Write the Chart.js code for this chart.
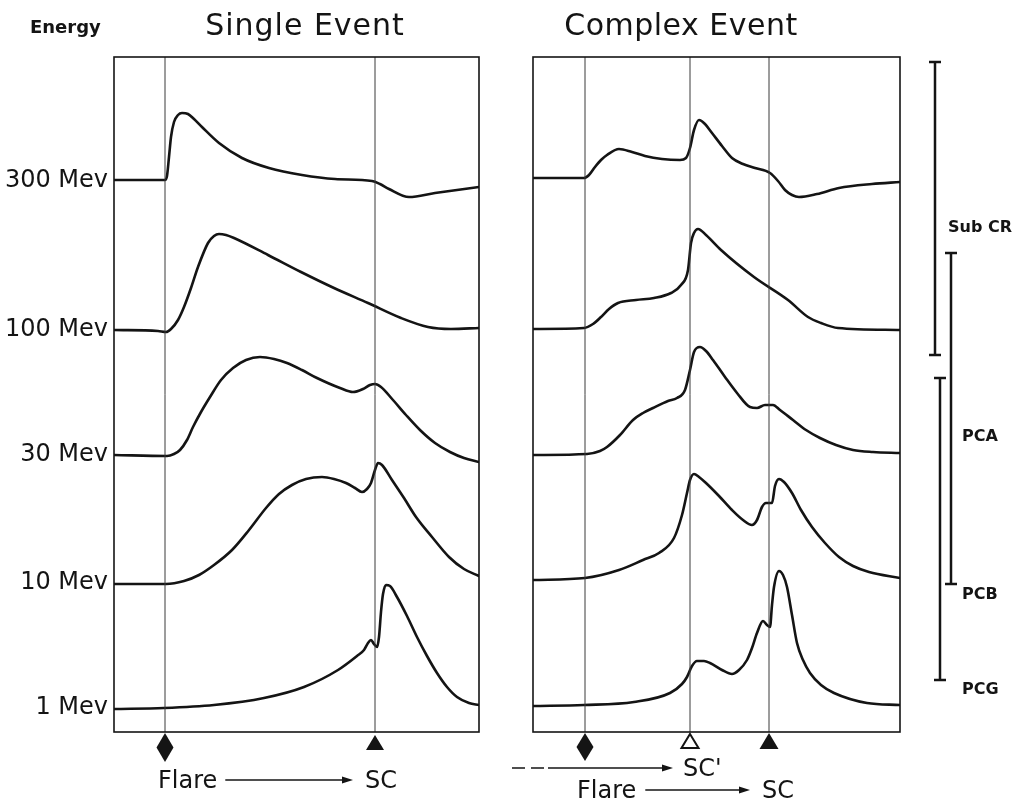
<!DOCTYPE html>
<html><head><meta charset="utf-8">
<script src="https://cdn.jsdelivr.net/npm/chart.js@4.4.1/dist/chart.umd.min.js"></script>
<style>
html,body{margin:0;padding:0;background:#fff;}
#wrap{position:relative;width:1025px;height:802px;overflow:hidden;background:#fff;}
canvas{position:absolute;top:0;}
#c1{left:0;width:500px;height:802px;}
#c2{left:500px;width:525px;height:802px;}
</style></head><body>
<div id="wrap"><canvas id="c1" width="500" height="802"></canvas><canvas id="c2" width="525" height="802"></canvas></div>
<script>
// ---------- data (time in arbitrary units, intensity in arbitrary stacked units) ----------
const energyLabels = ['300 Mev', '100 Mev', '30 Mev', '10 Mev', '1 Mev'];
const labelLevels = [551, 402, 277, 149, 24];

const singleFlare = 51, singleSC = 261;
const complexFlare = 52, complexSCp = 157, complexSC = 236;

const single300 = [[0,552],[51,552],[53,556],[55,575],[57,595],[60,610],[64,617],[68,619],[74,618],[80,613],[88,605],[105,589],[128,574],[155,564],[188,557],[221,553],[258,551],[266,548],[275,543],[295,535],[321,539],[365,545]];
const single100 = [[0,402],[44,401],[52,400],[57,403],[64,412],[70,425],[77,444],[84,465],[94,489],[100,496],[105,498],[112,497],[120,494],[154,477],[187,460],[220,444],[254,429],[287,414],[314,405],[337,403],[365,404]];
const single30 = [[0,277],[53,276],[60,278],[66,282],[73,292],[79,305],[87,320],[96,335],[107,352],[119,364],[132,372],[146,375],[160,373],[173,369],[188,362],[203,354],[226,344],[239,340],[249,343],[256,347],[261,348],[267,345],[279,332],[292,317],[306,302],[321,289],[336,280],[350,274],[365,270]];
const single10 = [[0,148],[52,148],[70,151],[85,157],[100,167],[118,182],[135,202],[152,224],[165,238],[178,247],[192,253],[208,255],[220,253],[232,249],[241,244],[248,240],[253,243],[257,249],[261,262],[264,269],[268,267],[278,252],[290,234],[302,215],[318,195],[335,175],[350,163],[365,156]];
const single1 = [[0,23],[50,24],[100,27],[150,34],[190,45],[224,62],[243,76],[250,82],[254,89],[257,92],[260,88],[263,85],[265,95],[267,120],[269,138],[272,147],[276,146],[283,135],[293,116],[303,95],[313,76],[323,59],[333,45],[343,35],[355,29],[365,27]];

const complex300 = [[0,554],[51,554],[56,557],[62,565],[68,572],[74,577],[86,583],[99,580],[112,576],[129,573],[147,572],[153,574],[157,584],[161,602],[166,612],[172,608],[179,599],[189,586],[199,574],[210,568],[222,564],[237,559],[245,551],[252,542],[259,537],[266,535],[284,538],[306,544],[339,548],[367,550]];
const complex100 = [[0,403],[51,404],[60,408],[68,415],[76,423],[85,429],[103,432],[121,434],[138,439],[148,447],[155,462],[158,489],[161,499],[165,503],[173,497],[188,482],[221,455],[255,432],[275,415],[288,409],[305,404],[367,402]];
const complex30 = [[0,277],[54,278],[67,281],[74,285],[87,297],[100,312],[110,319],[120,324],[135,331],[144,334],[152,342],[157,362],[161,380],[167,385],[173,381],[180,372],[192,355],[204,339],[217,325],[224,324],[232,327],[240,327],[247,322],[260,312],[273,302],[287,294],[303,287],[320,282],[340,280],[367,279]];
const complex10 = [[0,152],[52,154],[86,162],[110,172],[126,179],[141,194],[149,217],[154,239],[157,252],[161,258],[166,255],[173,249],[186,236],[199,222],[210,212],[219,207],[224,212],[229,225],[233,229],[239,229],[242,246],[246,253],[251,250],[259,239],[268,222],[279,205],[292,189],[306,175],[320,166],[336,160],[367,154]];
const complex1 = [[0,26],[51,27],[101,30],[137,39],[149,48],[154,55],[159,66],[164,71],[171,71],[177,69],[189,62],[199,58],[206,62],[214,72],[219,84],[224,99],[230,111],[234,107],[237,105],[239,127],[241,145],[246,161],[250,157],[254,145],[259,117],[264,89],[270,72],[277,59],[288,47],[301,39],[334,29],[367,27]];

const rangeNames = ['Sub CR', 'PCA', 'PCB', 'PCG'];
const rangeLabelLevels = [504, 295, 137, 42];
const subCRRange = [377, 670];
const pcaRange = [148, 479];
const pcgRange = [52, 354];

// ---------- drawing helpers ----------
const INK = '#141414';
const FONT = "'DejaVu Sans', 'Liberation Sans', sans-serif";

function text(ctx, s, x, y, font, align, spacing) {
  ctx.save();
  ctx.font = font;
  ctx.letterSpacing = (spacing || 0) + 'px';
  ctx.fillStyle = INK;
  ctx.textAlign = align || 'left';
  ctx.textBaseline = 'alphabetic';
  ctx.fillText(s, x, y);
  const w = ctx.measureText(s).width;
  ctx.restore();
  return w;
}
function arrow(ctx, x1, x2, y) {
  ctx.save();
  ctx.strokeStyle = INK; ctx.lineWidth = 1.6;
  ctx.beginPath(); ctx.moveTo(x1, y); ctx.lineTo(x2 - 8, y); ctx.stroke();
  ctx.fillStyle = INK;
  ctx.beginPath(); ctx.moveTo(x2, y); ctx.lineTo(x2 - 11, y - 3.5); ctx.lineTo(x2 - 11, y + 3.5); ctx.closePath(); ctx.fill();
  ctx.restore();
}
function diamond(ctx, x, top, hw, h) {
  ctx.save(); ctx.fillStyle = INK;
  ctx.beginPath(); ctx.moveTo(x, top); ctx.lineTo(x + hw, top + h / 2); ctx.lineTo(x, top + h); ctx.lineTo(x - hw, top + h / 2); ctx.closePath(); ctx.fill();
  ctx.restore();
}
function triangle(ctx, x, top, hw, h, filled) {
  ctx.save();
  ctx.beginPath(); ctx.moveTo(x, top); ctx.lineTo(x + hw, top + h); ctx.lineTo(x - hw, top + h); ctx.closePath();
  if (filled) { ctx.fillStyle = INK; ctx.fill(); }
  else { ctx.strokeStyle = INK; ctx.lineWidth = 2; ctx.lineJoin = 'miter'; ctx.stroke(); }
  ctx.restore();
}
function bracket(ctx, x, y1, y2) {
  ctx.save(); ctx.strokeStyle = INK; ctx.lineWidth = 2.5;
  ctx.beginPath();
  ctx.moveTo(x, y1); ctx.lineTo(x, y2);
  ctx.moveTo(x - 6, y1); ctx.lineTo(x + 6, y1);
  ctx.moveTo(x - 6, y2); ctx.lineTo(x + 6, y2);
  ctx.stroke(); ctx.restore();
}
function box(ctx, a) {
  ctx.save(); ctx.strokeStyle = INK; ctx.lineWidth = 1.6;
  ctx.strokeRect(a.left, a.top, a.right - a.left, a.bottom - a.top);
  ctx.restore();
}

function curve(d) {
  return { data: d, borderColor: INK, borderWidth: 2.6, pointRadius: 0, cubicInterpolationMode: 'monotone',
           borderJoinStyle: 'round', borderCapStyle: 'round', fill: false };
}
function eventLine(t) {
  return { data: [[t, 0], [t, 675]], borderColor: '#3a3a3a', borderWidth: 1, pointRadius: 0, tension: 0, fill: false };
}

const baseOpts = (xmax, pad, showY) => ({
  responsive: false, animation: false, devicePixelRatio: 1,
  layout: { padding: pad },
  plugins: { legend: { display: false }, tooltip: { enabled: false }, title: { display: false } },
  scales: {
    x: { type: 'linear', min: 0, max: xmax, display: false },
    y: { type: 'linear', min: 0, max: 675, display: showY,
         afterBuildTicks: s => { s.ticks = labelLevels.map(v => ({ value: v })); },
         afterFit: s => { s.width = showY ? 114 : 0; },
         grid: { display: false, drawTicks: false }, border: { display: false },
         ticks: { autoSkip: false, padding: 6, color: INK, font: { family: FONT, size: 24 },
                  callback: (v, i) => energyLabels[i] } }
  }
});

// ---------- left panel: Single Event ----------
const leftDeco = {
  id: 'leftDeco',
  afterDraw(chart) {
    const ctx = chart.ctx, a = chart.chartArea, xs = chart.scales.x;
    box(ctx, a);
    text(ctx, 'Energy', 30, 33, 'bold 18px ' + FONT);
    text(ctx, 'Single Event', 305, 35, '30px ' + FONT, 'center', 1);
    const fx = xs.getPixelForValue(singleFlare), sx = xs.getPixelForValue(singleSC);
    diamond(ctx, fx, a.bottom + 1, 8.5, 29);
    triangle(ctx, sx, a.bottom + 3, 9, 15, true);
    const w = text(ctx, 'Flare', fx - 7, 788, '24px ' + FONT);
    arrow(ctx, fx - 7 + w + 8, sx - 22, 780);
    text(ctx, 'SC', sx - 10, 788, '24px ' + FONT);
  }
};

new Chart(document.getElementById('c1'), {
  type: 'line',
  data: { datasets: [eventLine(singleFlare), eventLine(singleSC),
    curve(single300), curve(single100), curve(single30), curve(single10), curve(single1)] },
  options: baseOpts(365, { top: 57, bottom: 70, left: 0, right: 21 }, true),
  plugins: [leftDeco]
});

// ---------- right panel: Complex Event ----------
const rightDeco = {
  id: 'rightDeco',
  afterDraw(chart) {
    const ctx = chart.ctx, a = chart.chartArea, xs = chart.scales.x, ys = chart.scales.y;
    box(ctx, a);
    text(ctx, 'Complex Event', 181, 35, '30px ' + FONT, 'center', 0.5);
    const fx = xs.getPixelForValue(complexFlare), px = xs.getPixelForValue(complexSCp), sx = xs.getPixelForValue(complexSC);
    diamond(ctx, fx, a.bottom + 1, 8.5, 28);
    triangle(ctx, px, a.bottom + 2, 8.5, 14, false);
    triangle(ctx, sx, a.bottom + 1, 9.5, 16, true);
    // dashed then solid arrow to SC'
    ctx.save(); ctx.strokeStyle = INK; ctx.lineWidth = 1.6; ctx.setLineDash([13, 6]);
    ctx.beginPath(); ctx.moveTo(12, 768); ctx.lineTo(46, 768); ctx.stroke(); ctx.restore();
    arrow(ctx, 48, px - 17, 768);
    text(ctx, "SC'", px - 7, 776, '24px ' + FONT);
    const w = text(ctx, 'Flare', fx - 8, 798, '24px ' + FONT);
    arrow(ctx, fx - 8 + w + 9, sx - 19, 790);
    text(ctx, 'SC', sx - 7, 798, '24px ' + FONT);
    // detector ranges
    bracket(ctx, a.right + 35, ys.getPixelForValue(subCRRange[1]), ys.getPixelForValue(subCRRange[0]));
    bracket(ctx, a.right + 51, ys.getPixelForValue(pcaRange[1]), ys.getPixelForValue(pcaRange[0]));
    bracket(ctx, a.right + 40, ys.getPixelForValue(pcgRange[1]), ys.getPixelForValue(pcgRange[0]));
    const lx = [a.right + 48, a.right + 62, a.right + 62, a.right + 62];
    rangeNames.forEach((n, i) => {
      ctx.save(); ctx.font = 'bold 16px ' + FONT; ctx.fillStyle = INK; ctx.textBaseline = 'middle';
      ctx.fillText(n, lx[i], ys.getPixelForValue(rangeLabelLevels[i])); ctx.restore();
    });
  }
};

new Chart(document.getElementById('c2'), {
  type: 'line',
  data: { datasets: [eventLine(complexFlare), eventLine(complexSCp), eventLine(complexSC),
    curve(complex300), curve(complex100), curve(complex30), curve(complex10), curve(complex1)] },
  options: baseOpts(367, { top: 57, bottom: 70, left: 33, right: 125 }, false),
  plugins: [rightDeco]
});
</script>
</body></html>
